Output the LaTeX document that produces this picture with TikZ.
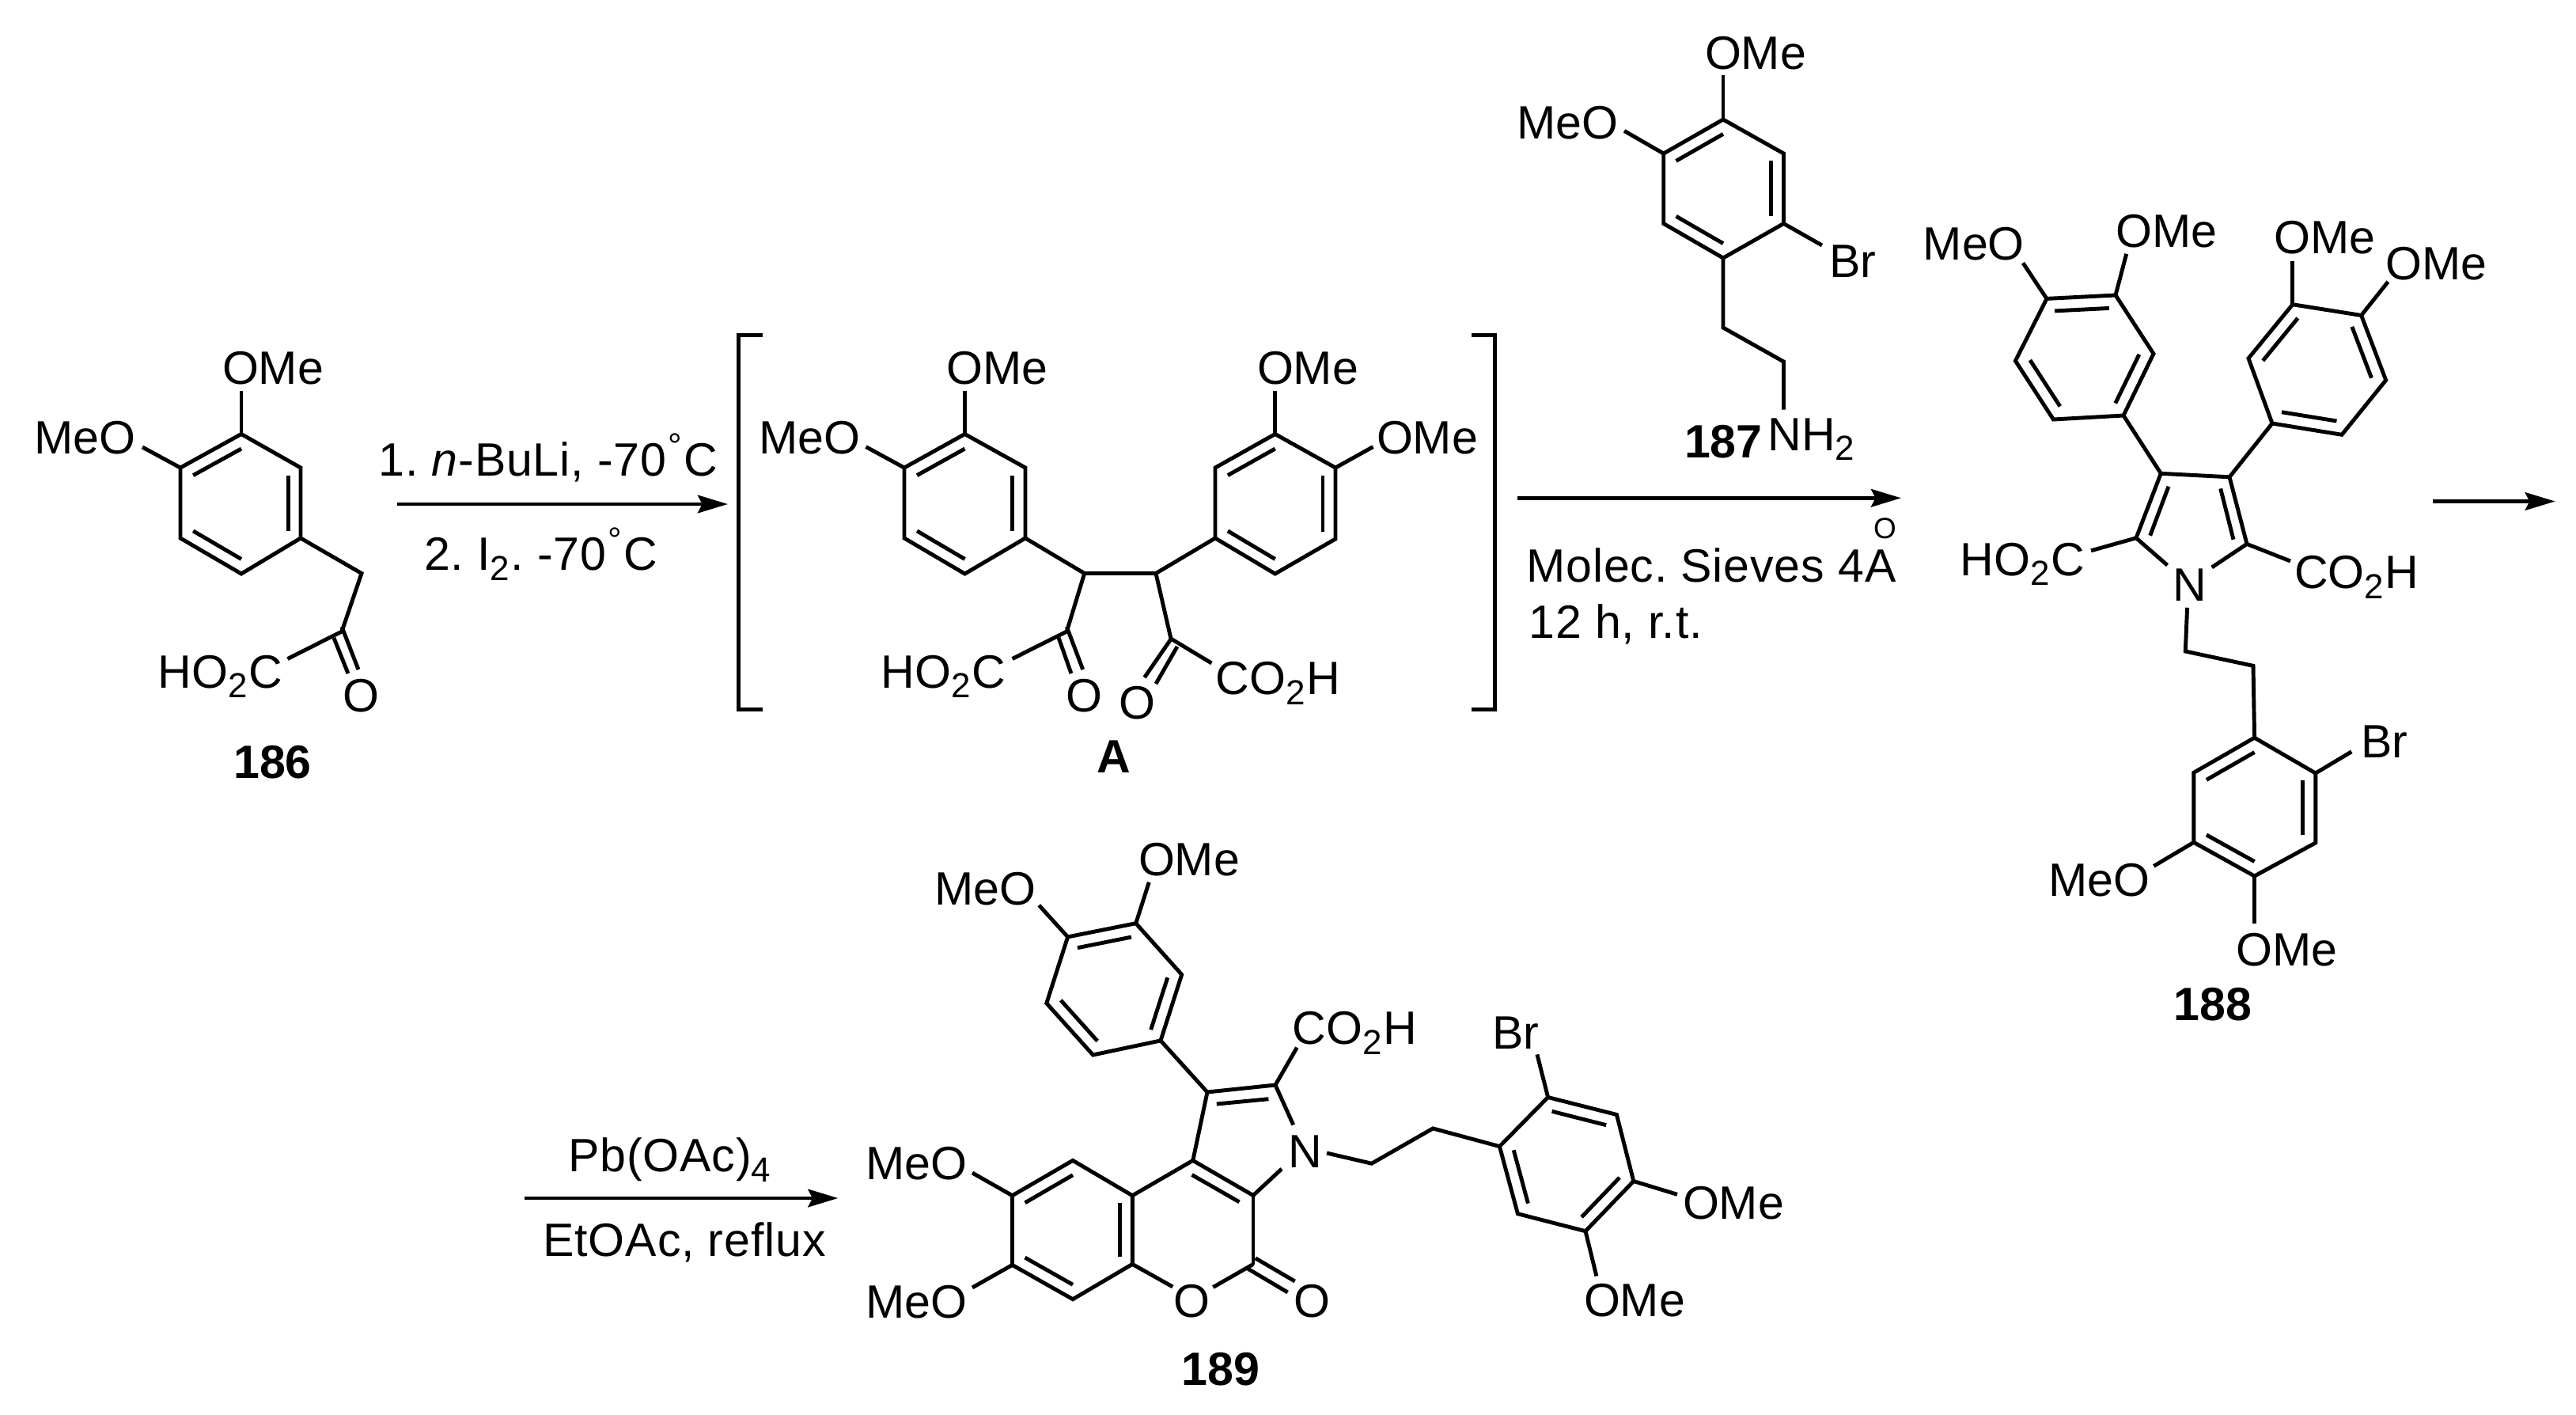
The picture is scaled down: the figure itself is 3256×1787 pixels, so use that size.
\documentclass[tikz,border=0pt]{standalone}
\usepackage{fontspec}
\setmainfont{Liberation Sans}
\usetikzlibrary{arrows.meta,calc}
\tikzset{
  bond/.style={line width=1.4pt,line cap=butt,line join=miter},
  rxn/.style={line width=1.4pt,-{Stealth[length=10.8pt,width=6.4pt,inset=1.6pt]}},
  brk/.style={line width=1.5pt,line join=miter},
  lab/.style={anchor=base west,xshift=-0.03cm,inner sep=0pt,outer sep=0pt,font=\fontsize{16.8}{20}\selectfont},
  cond/.style={lab,font=\fontsize{16.8}{20}\selectfont\addfontfeature{LetterSpace=1.4}},
  cmpd/.style={anchor=base,inner sep=0pt,outer sep=0pt,font=\fontsize{16.8}{20}\selectfont\bfseries}
}
\newcommand\subtwo[1]{\raisebox{-3.6pt}{\fontsize{12.5}{14}\selectfont #1}\kern.4pt}
\newcommand\dgr{\kern.6pt\raisebox{6.5pt}{\fontsize{12.5}{14}\selectfont °}\kern.6pt}
% name, x, y, text
\newcommand\chemlab[4]{\node[lab] (#1) at (#2,#3) {#4};}
\newcommand\condlab[4]{\node[cond] (#1) at (#2,#3) {#4};}
% prefix + six vertices: double bonds on 1-2, 3-4, 5-6
\newcommand\arylring[7]{%
  \coordinate (#11) at #2; \coordinate (#12) at #3; \coordinate (#13) at #4;
  \coordinate (#14) at #5; \coordinate (#15) at #6; \coordinate (#16) at #7;
  \coordinate (#1c) at ($(#11)!.5!(#14)$);
  \draw[bond] (#11)--(#12)--(#13)--(#14)--(#15)--(#16)--cycle;
  \draw[bond] ($(#11)!.21!(#1c)$)--($(#12)!.21!(#1c)$);
  \draw[bond] ($(#13)!.21!(#1c)$)--($(#14)!.21!(#1c)$);
  \draw[bond] ($(#15)!.21!(#1c)$)--($(#16)!.21!(#1c)$);
}
% from, name of free end, position of free end
\newcommand\bondto[3]{\coordinate (#2) at #3; \draw[bond] (#1)--(#2);}
% name, two ends
\newcommand\bondseg[3]{\coordinate (#1a) at #2; \coordinate (#1b) at #3; \draw[bond] (#1a)--(#1b);}
\begin{document}
\frenchspacing
\begin{tikzpicture}[x=0.01cm,y=-0.01cm]
\useasboundingbox[fill=white] (0,0) rectangle (3256,1787);

% ---------- 186
\arylring{a}{(305,548.5)}{(228,591)}{(228,680)}{(305,725)}{(380,680)}{(380,591)}
\chemlab{aOMe}{284}{485}{OMe}
\chemlab{aMeO}{46}{573}{MeO}
\chemlab{aAcid}{203}{869}{HO\subtwo{2}C}
\chemlab{aO}{436}{899}{O}
\node[cmpd] (n186) at (344.5,983.6) {186};
\bondto{a1}{aE1}{(305,494)}
\bondto{a2}{aE2}{(180,565)}
\coordinate (aCH) at (457,724.5);
\coordinate (aCO) at (432,798);
\coordinate (aE3) at (363.5,832.5);
\draw[bond] (a5)--(aCH)--(aCO)--(aE3);
\bondseg{aD}{(432,792)}{(453,846)}
\bondseg{aF}{(422,806)}{(440,851)}

% ---------- arrow 1
\coordinate (r1s) at (502,637); \coordinate (r1e) at (920,637);
\draw[rxn] (r1s)--(r1e);
\condlab{r1t}{481.5}{601}{1. \textit{n}-BuLi, -70\dgr C}
\condlab{r1b}{539}{720.7}{2. I\subtwo{2}. -70\dgr C}

% ---------- A
\coordinate (bL1) at (963.8,423.7); \coordinate (bL2) at (933.8,423.7);
\coordinate (bL3) at (933.8,896.8); \coordinate (bL4) at (963.8,896.8);
\draw[brk] (bL1)--(bL2)--(bL3)--(bL4);
\coordinate (bR1) at (1859.8,423.7); \coordinate (bR2) at (1889.8,423.7);
\coordinate (bR3) at (1889.8,896.8); \coordinate (bR4) at (1859.8,896.8);
\draw[brk] (bR1)--(bR2)--(bR3)--(bR4);

\arylring{b}{(1219.5,548.5)}{(1143,591)}{(1143,680)}{(1219.5,725)}{(1296,680)}{(1296,591)}
\arylring{c}{(1611.7,548.5)}{(1536,591)}{(1536,680)}{(1611.7,725)}{(1688,681)}{(1688,591)}
\chemlab{bOMe}{1199.7}{485}{OMe}
\chemlab{bMeO}{962.5}{573}{MeO}
\chemlab{cOMe}{1592}{485}{OMe}
\chemlab{cOMeb}{1743}{573}{OMe}
\bondto{b1}{bE1}{(1219.5,494)}
\bondto{b2}{bE2}{(1094.5,564.6)}
\bondto{c1}{cE1}{(1611.7,494)}
\bondto{c6}{cE2}{(1735.5,564.6)}
\coordinate (mL) at (1370.7,724.5); \coordinate (mR) at (1461,724.5);
\coordinate (kL) at (1348.3,798); \coordinate (kR) at (1480,807);
\coordinate (kLe) at (1279.5,832.5); \coordinate (kRe) at (1531.4,838);
\draw[bond] (b5)--(mL)--(mR)--(c3);
\draw[bond] (mL)--(kL)--(kLe);
\draw[bond] (mR)--(kR)--(kRe);
\bondseg{bD}{(1348.3,792)}{(1368.7,846)}
\bondseg{bF}{(1338,805.7)}{(1354,851)}
\bondseg{cD}{(1480,807.6)}{(1446.6,856)}
\bondseg{cF}{(1488,817)}{(1461,864)}
\chemlab{bAcid}{1116.8}{869}{HO\subtwo{2}C}
\chemlab{bO}{1350.5}{899}{O}
\chemlab{cO}{1417}{908}{O}
\chemlab{cAcid}{1539.7}{877.6}{CO\subtwo{2}H}
\node[cmpd] (nA) at (1408,976) {A};

% ---------- arrow 2
\coordinate (r2s) at (1918.3,629.3); \coordinate (r2e) at (2403,629.3);
\draw[rxn] (r2s)--(r2e);
\condlab{r2t}{1932.4}{735.7}{Molec. Sieves 4A}
\node[anchor=base,inner sep=0pt,font=\fontsize{10.5}{12}\selectfont] (r2o) at (2382.5,680) {O};
\condlab{r2b}{1935.5}{806}{12 h, r.t.}

% ---------- 187
\arylring{d}{(2178,151)}{(2102.7,194)}{(2102.7,282.5)}{(2178,326)}{(2254.5,282.5)}{(2254.5,194)}
\chemlab{dOMe}{2158}{87}{OMe}
\chemlab{dMeO}{1920.5}{175}{MeO}
\chemlab{dBr}{2315}{350}{Br}
\chemlab{dN}{2237.5}{569}{NH\subtwo{2}}
\node[lab,font=\fontsize{16.8}{20}\selectfont\bfseries] (n187) at (2132,578) {187};
\bondto{d1}{dE1}{(2178,95.4)}
\bondto{d2}{dE2}{(2053,165.4)}
\bondto{d5}{dE3}{(2303,310)}
\coordinate (dC1) at (2178,414); \coordinate (dC2) at (2254.5,457); \coordinate (dE4) at (2254.5,517.5);
\draw[bond] (d4)--(dC1)--(dC2)--(dE4);

% ---------- 188
\arylring{e}{(2587,377.4)}{(2674,373)}{(2722,447)}{(2684,525)}{(2595.4,530)}{(2547.4,456)}
\arylring{f}{(2897.8,384.7)}{(2842,452.8)}{(2872,535)}{(2960,549.3)}{(3015.7,480.4)}{(2984.6,398.5)}
\chemlab{eOMe}{2677.3}{312}{OMe}
\chemlab{eMeO}{2433.8}{328.5}{MeO}
\chemlab{fOMe}{2877.6}{320.8}{OMe}
\chemlab{fOMeb}{3018.4}{353.3}{OMe}
\bondto{e2}{eE1}{(2687.7,320.8)}
\bondto{e1}{eE2}{(2557,332.3)}
\bondto{f1}{fE1}{(2897.8,329.6)}
\bondto{f6}{fE2}{(3018.4,356)}
\coordinate (pC3) at (2731.3,598.3); \coordinate (pC4) at (2818,602.8);
\coordinate (pC5) at (2840,687.4); \coordinate (pC2) at (2700,679.8);
\coordinate (pNl) at (2739.5,714.2); \coordinate (pNr) at (2795.7,716.9);
\draw[bond] (pNl)--(pC2)--(pC3)--(pC4)--(pC5)--(pNr);
\draw[bond] (e4)--(pC3);
\draw[bond] (f3)--(pC4);
\bondseg{pD}{(2741,614.7)}{(2717.7,676.7)}
\bondseg{pF}{(2806.7,617.4)}{(2823,681.7)}
\chemlab{pN}{2749.3}{759}{N}
\bondto{pC2}{pE1}{(2643,695.8)}
\bondto{pC5}{pE2}{(2895,709)}
\chemlab{pAcidL}{2480.8}{727.2}{HO\subtwo{2}C}
\chemlab{pAcidR}{2903.3}{743.7}{CO\subtwo{2}H}
\arylring{g}{(2849.6,932.2)}{(2772.8,976.3)}{(2772.8,1064.4)}{(2849.6,1107)}{(2926.8,1065)}{(2926.8,977)}
\coordinate (gS) at (2764.6,767.8); \coordinate (gC1) at (2762.3,823); \coordinate (gC2) at (2848,841.3);
\draw[bond] (gS)--(gC1)--(gC2)--(g1);
\bondto{g6}{gE1}{(2972.3,949.8)}
\bondto{g3}{gE2}{(2722.3,1094.4)}
\bondto{g4}{gE3}{(2849.6,1167.4)}
\chemlab{gBr}{2987}{957.3}{Br}
\chemlab{gMeO}{2592}{1132}{MeO}
\chemlab{gOMe}{2829.5}{1220}{OMe}
\node[cmpd] (n188) at (2797,1289.6) {188};

% ---------- arrow 3
\coordinate (r3s) at (3075,633.5); \coordinate (r3e) at (3229.7,633.5);
\draw[rxn] (r3s)--(r3e);

% ---------- arrow 4
\coordinate (r4s) at (662.8,1514); \coordinate (r4e) at (1059.4,1514);
\draw[rxn] (r4s)--(r4e);
\condlab{r4t}{721.4}{1480.7}{Pb(OAc)\subtwo{4}}
\condlab{r4b}{689.5}{1587}{EtOAc, reflux}

% ---------- 189
\arylring{h}{(1349.6,1183.9)}{(1435.7,1166.7)}{(1493.7,1231.5)}{(1467,1314.9)}{(1381.5,1333)}{(1322.8,1267.7)}
\chemlab{hOMe}{1442}{1106.7}{OMe}
\chemlab{hMeO}{1184.4}{1143.4}{MeO}
\bondto{h2}{hE1}{(1452.3,1114.8)}
\bondto{h1}{hE2}{(1313.3,1143.9)}
\coordinate (qC1) at (1526,1380); \coordinate (qC2) at (1612,1371);
\coordinate (qC9) at (1507.8,1466.4); \coordinate (qC8) at (1584,1510.5);
\coordinate (qNt) at (1634.7,1421.4); \coordinate (qNb) at (1620,1477);
\coordinate (qC0) at (1584,1597.5);
\draw[bond] (h4)--(qC1);
\draw[bond] (qNt)--(qC2)--(qC1)--(qC9)--(qC8)--(qNb);
\draw[bond] (qC8)--(qC0);
\bondseg{qD}{(1537.8,1395)}{(1603.4,1388.7)}
\bondseg{qF}{(1506.5,1484.5)}{(1566.5,1518.8)}
\bondseg{qG}{(1586.7,1589.8)}{(1636.7,1619)}
\bondseg{qH}{(1576.5,1602.7)}{(1627.6,1633)}
\chemlab{qN}{1631.6}{1475.4}{N}
\chemlab{qO}{1638.8}{1664.8}{O}
\chemlab{qOr}{1486.7}{1664.4}{O}
\coordinate (qOa) at (1533.3,1626.5); \coordinate (qOb) at (1482.3,1626);
\draw[bond] (qC0)--(qOa);
\arylring{i}{(1356,1466.4)}{(1279.5,1510.7)}{(1279.5,1598.4)}{(1356,1641.7)}{(1431.3,1597.4)}{(1431.3,1510.7)}
\draw[bond] (i6)--(qC9);
\draw[bond] (i5)--(qOb);
\bondto{i2}{iE1}{(1229,1482)}
\bondto{i3}{iE2}{(1229,1627)}
\chemlab{iMeO}{1097.7}{1490}{MeO}
\chemlab{iMeOb}{1097.7}{1665}{MeO}
\bondto{qC2}{qE1}{(1639.3,1323.7)}
\chemlab{qAcid}{1636.7}{1319.5}{CO\subtwo{2}H}
\arylring{j}{(1956.6,1386.5)}{(2043.4,1408.5)}{(2064.8,1492.5)}{(2004,1555.7)}{(1918.4,1533.7)}{(1895.4,1448.6)}
\coordinate (jS) at (1677,1457); \coordinate (jC1) at (1733.7,1470.2); \coordinate (jC2) at (1811.2,1425.9);
\draw[bond] (jS)--(jC1)--(jC2)--(j6);
\bondto{j1}{jE1}{(1942.9,1332.4)}
\bondto{j3}{jE2}{(2120,1509.3)}
\bondto{j4}{jE3}{(2017.9,1612.5)}
\chemlab{jBr}{1889.3}{1325.5}{Br}
\chemlab{jOMe}{2130}{1540}{OMe}
\chemlab{jOMeb}{2005}{1663.8}{OMe}
\node[cmpd] (n189) at (1543,1750.8) {189};
\end{tikzpicture}
\end{document}
